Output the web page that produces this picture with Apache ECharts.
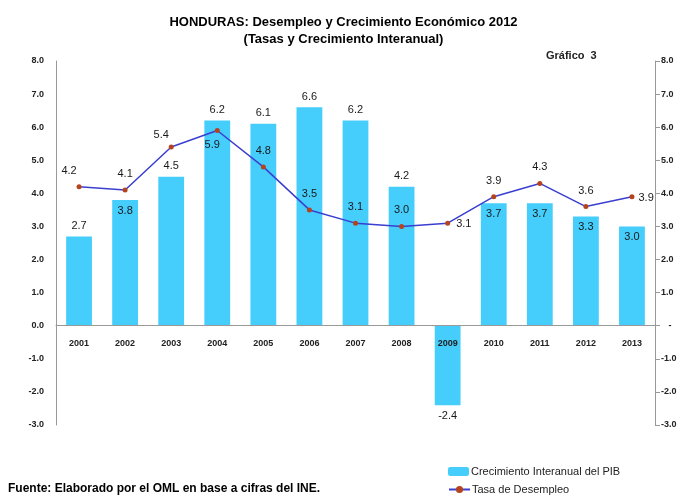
<!DOCTYPE html>
<html lang="es">
<head>
<meta charset="utf-8">
<title>Honduras desempleo</title>
<script src="https://cdn.jsdelivr.net/npm/echarts@6/dist/echarts.min.js"></script>
<style>
  html, body { margin: 0; padding: 0; background: #fff; }
  #main { width: 687px; height: 497px; }
</style>
</head>
<body>
<div id="main"></div>
<script>
// datos
var years = ['2001', '2002', '2003', '2004', '2005', '2006', '2007', '2008', '2009', '2010', '2011', '2012', '2013'];
var pib = [2.7, 3.8, 4.5, 6.2, 6.1, 6.6, 6.2, 4.2, -2.4, 3.7, 3.7, 3.3, 3.0];
var desempleo = [4.2, 4.1, 5.4, 5.9, 4.8, 3.5, 3.1, 3.0, 3.1, 3.9, 4.3, 3.6, 3.9];

var font = 'Liberation Sans, Arial, sans-serif';

// posicion de etiquetas (como en el grafico original)
var barPos = ['top', 'insideTop', 'top', 'top', 'top', 'top', 'top', 'top', 'bottom', 'insideTop', 'insideTop', 'insideTop', 'insideTop'];
var linePos = ['top', 'top', 'top', 'bottom', 'top', 'top', 'top', 'top', 'right', 'top', 'top', 'top', 'right'];
var lineOff = [[-10, -2], [0, -2], [-10, 2], [-5, 0], [0, -2], [0, -2], [0, -2], [0, -2], [0, 1], [0, -2], [0, -2], [0, -2], [-2, 1]];

var barData = pib.map(function (v, i) {
  return { value: v, label: { position: barPos[i] } };
});
var lineData = desempleo.map(function (v, i) {
  return { value: v, label: { position: linePos[i], offset: lineOff[i] } };
});

// eje x a la altura del cero: grid 61..425, rango -3..8
var zeroOffset = -(364 * 3 / 11);

var chart = echarts.init(document.getElementById('main'));
chart.setOption({
  animation: false,
  title: {
    text: 'HONDURAS: Desempleo y Crecimiento Económico 2012\n(Tasas y Crecimiento Interanual)',
    left: 'center',
    top: 9,
    textStyle: { fontFamily: font, fontSize: 13, fontWeight: 'bold', color: '#000', lineHeight: 17 }
  },
  graphic: [
    { type: 'text', left: 546, top: 50, style: { text: 'Gráfico  3', font: 'bold 11px ' + font, fill: '#222' } },
    { type: 'text', left: 8, top: 483, style: { text: 'Fuente: Elaborado por el OML en base a cifras del INE.', font: 'bold 12px ' + font, fill: '#000' } }
  ],
  legend: [{
    left: 448, top: 466, padding: 0,
    itemWidth: 21, itemHeight: 9,
    textStyle: { fontFamily: font, fontSize: 11, color: '#222', padding: [0, 0, 0, -3] },
    data: ['Crecimiento Interanual del PIB']
  }, {
    left: 448, top: 484, padding: 0,
    itemWidth: 21, itemHeight: 9,
    textStyle: { fontFamily: font, fontSize: 11, color: '#222', padding: [0, 0, 0, -3] },
    data: ['Tasa de Desempleo']
  }],
  grid: { left: 56, right: 32, top: 61, bottom: 72 },
  xAxis: {
    type: 'category',
    data: years,
    z: 5,
    offset: zeroOffset,
    axisLine: { onZero: false, lineStyle: { color: '#999' } },
    axisTick: { show: false },
    axisLabel: { fontFamily: font, fontSize: 9, fontWeight: 'bold', color: '#222', margin: 13 }
  },
  yAxis: [{
    type: 'value',
    min: -3, max: 8, interval: 1,
    splitLine: { show: false },
    axisLine: { show: true, lineStyle: { color: '#999' } },
    axisTick: { show: false },
    axisLabel: { fontFamily: font, fontSize: 9, fontWeight: 'bold', color: '#222', margin: 12,
      formatter: function (v) { return v.toFixed(1); } }
  }, {
    type: 'value',
    min: -3, max: 8, interval: 1,
    position: 'right',
    splitLine: { show: false },
    axisLine: { show: true, lineStyle: { color: '#999' } },
    axisTick: { show: true, length: 5, lineStyle: { color: '#999' } },
    axisLabel: { fontFamily: font, fontSize: 9, fontWeight: 'bold', color: '#222', margin: 6,
      formatter: function (v) { return v === 0 ? '   -' : v.toFixed(1); } }
  }],
  series: [{
    name: 'Crecimiento Interanual del PIB',
    type: 'bar',
    data: barData,
    barWidth: '56%',
    itemStyle: { color: '#45cdfc' },
    label: { show: true, fontFamily: font, fontSize: 11, color: '#1a1a1a', distance: 5,
      formatter: function (p) { return p.value.toFixed(1); } }
  }, {
    name: 'Tasa de Desempleo',
    type: 'line',
    data: lineData,
    symbol: 'circle',
    symbolSize: 5,
    z: 4,
    lineStyle: { color: '#3a3fd0', width: 1.5 },
    itemStyle: { color: '#b5441e' },
    label: { show: true, fontFamily: font, fontSize: 11, color: '#1a1a1a', distance: 6,
      formatter: function (p) { return p.value.toFixed(1); } }
  }]
});
</script>
</body>
</html>
